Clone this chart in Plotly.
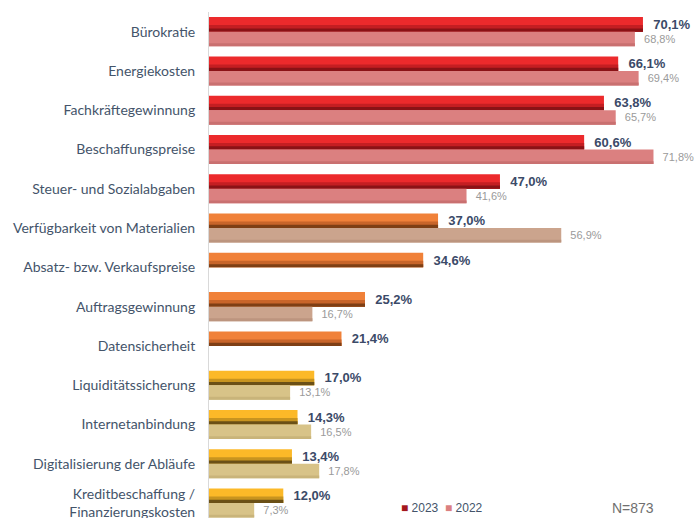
import plotly.graph_objects as go

categories = [
    "Bürokratie", "Energiekosten", "Fachkräftegewinnung", "Beschaffungspreise",
    "Steuer- und Sozialabgaben", "Verfügbarkeit von Materialien",
    "Absatz- bzw. Verkaufspreise", "Auftragsgewinnung", "Datensicherheit",
    "Liquiditätssicherung", "Internetanbindung", "Digitalisierung der Abläufe",
    "Kreditbeschaffung /<br>Finanzierungskosten",
]
values_2023 = [70.1, 66.1, 63.8, 60.6, 47.0, 37.0, 34.6, 25.2, 21.4, 17.0, 14.3, 13.4, 12.0]
values_2022 = [68.8, 69.4, 65.7, 71.8, 41.6, 56.9, None, 16.7, None, 13.1, 16.5, 17.8, 7.3]
group = ["r"] * 5 + ["o"] * 4 + ["y"] * 4
series_names = ["2023", "2022"]
n_text = "N=873"

bright = {"r": "#EC2A2C", "o": "#F08139", "y": "#FCB928"}
mid = {"r": "#C41E22", "o": "#C8652A", "y": "#C8941F"}
dark = {"r": "#8A1216", "o": "#7E3F15", "y": "#6B5016"}
c22 = {"r": "#DB8080", "o": "#CBA48D", "y": "#D8C388"}
c22d = {"r": "#C97070", "o": "#BC957F", "y": "#C9B47A"}
legend_colors = ["#A3171C", "#DB8080"]


def fmt(v):
    return "" if v is None else "  " + f"{v:.1f}%".replace(".", ",")


W = 0.37
fig = go.Figure()
# 2023 base bars (bright)
fig.add_trace(go.Bar(
    y=categories, x=values_2023, orientation="h", offset=-W, width=W,
    marker=dict(color=[bright[g] for g in group], line_width=0),
    text=[fmt(v) for v in values_2023], textposition="outside",
    textfont=dict(family="Liberation Sans, Arial", size=13, color="#3B4A68", weight="bold"),
    constraintext="none", cliponaxis=False, showlegend=False, hoverinfo="skip",
))
# 2023 shading (mid)
fig.add_trace(go.Bar(
    y=categories, x=values_2023, orientation="h", offset=-W * 0.45, width=W * 0.45,
    marker=dict(color=[mid[g] for g in group], line_width=0),
    showlegend=False, hoverinfo="skip",
))
# 2023 shading (dark)
fig.add_trace(go.Bar(
    y=categories, x=values_2023, orientation="h", offset=-W * 0.22, width=W * 0.22,
    marker=dict(color=[dark[g] for g in group], line_width=0),
    showlegend=False, hoverinfo="skip",
))
# 2022 bars
fig.add_trace(go.Bar(
    y=categories, x=values_2022, orientation="h", offset=0, width=W,
    marker=dict(color=[c22[g] for g in group], line_width=0),
    text=[fmt(v) for v in values_2022], textposition="outside",
    textfont=dict(family="Liberation Sans, Arial", size=11, color="#9A9A9A"),
    constraintext="none", cliponaxis=False, showlegend=False, hoverinfo="skip",
))
fig.add_trace(go.Bar(
    y=categories, x=values_2022, orientation="h", offset=W * 0.8, width=W * 0.2,
    marker=dict(color=[c22d[g] for g in group], line_width=0),
    showlegend=False, hoverinfo="skip",
))

legend_text = "\u00a0\u00a0".join(
    f'<span style="color:{c}">■</span>\u00a0{n}' for c, n in zip(legend_colors, series_names)
)

fig.update_layout(
    width=696, height=518,
    margin=dict(l=209, r=6, t=12, b=0, autoexpand=False),
    barmode="overlay",
    plot_bgcolor="white", paper_bgcolor="white",
    showlegend=False,
    xaxis=dict(range=[0, 77.7], visible=False, showgrid=False, automargin=False),
    yaxis=dict(
        type="category", categoryorder="array", categoryarray=categories,
        range=[12.38, -0.5], showgrid=False, showline=True, linecolor="#D9D9D9",
        linewidth=1, ticks="", ticklabelstandoff=10, automargin=False,
        tickfont=dict(family="Lato, Carlito, Calibri", size=14, color="#44546A"),
    ),
    annotations=[
        dict(
            text=legend_text, xref="paper", yref="paper", x=0.395, y=0.02,
            xanchor="left", yanchor="middle", showarrow=False,
            font=dict(family="Liberation Sans, Arial", size=12, color="#44546A"),
        ),
        dict(
            text=n_text, xref="paper", yref="paper", x=0.834, y=0.02,
            xanchor="left", yanchor="middle", showarrow=False,
            font=dict(family="Liberation Sans, Arial", size=14, color="#6F6F6F"),
        ),
    ],
)

fig.write_html(
    "out.html",
    config={"displayModeBar": False},
    post_script="document.body.style.margin='0';document.body.style.overflow='hidden';",
)
